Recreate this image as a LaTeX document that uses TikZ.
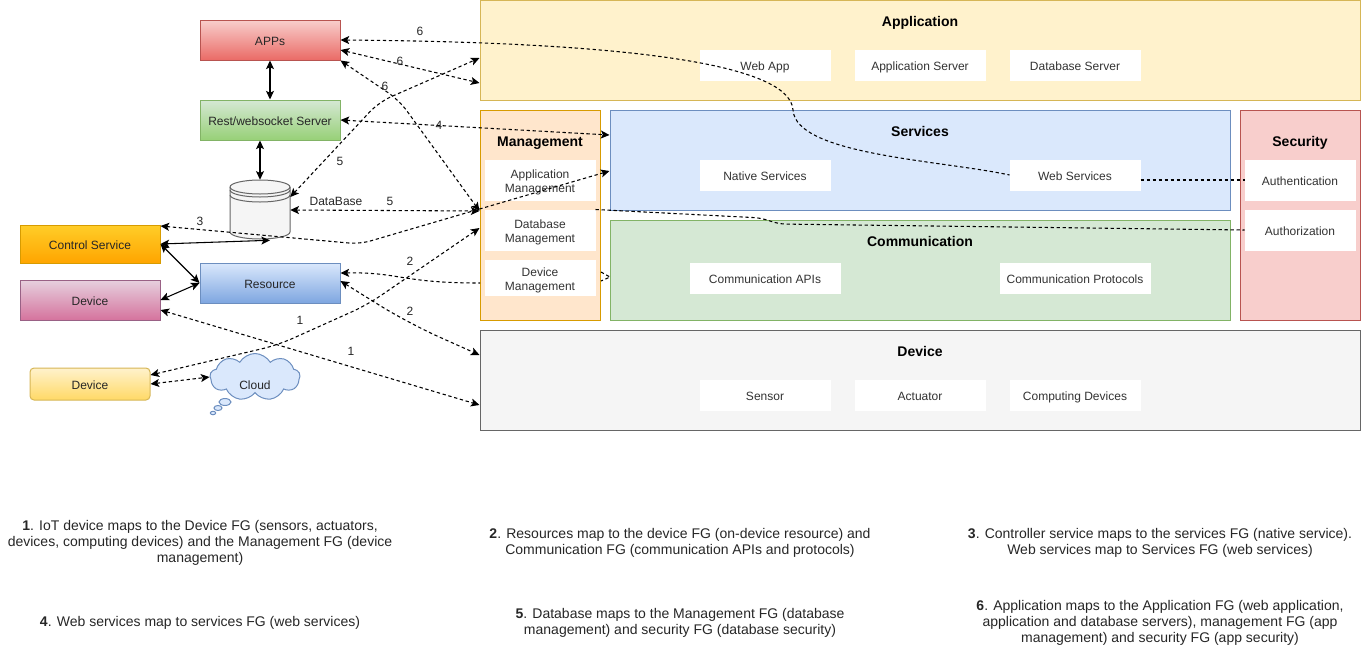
\documentclass[tikz,border=0pt]{standalone}
\usepackage{fontspec}
\setmainfont{Liberation Sans}
\usetikzlibrary{arrows.meta,calc,shapes.symbols}

\newcommand{\topgap}{\rule{0pt}{10.8pt}}
\tikzset{
    dim/.style 2 args={minimum width=#1*0.75pt, minimum height=#2*0.75pt, inner sep=0pt},
    fgbox/.style={draw=#1, line width=0.75pt},
    inbox/.style={fill=white, draw=white, text=black!80, font=\fontsize{9}{10.5}\selectfont, align=center, line width=0.75pt, text height=9.4pt, text depth=1.8pt},
    inboxtwo/.style={fill=white, draw=white, text=black!80, font=\fontsize{9}{10.5}\selectfont, align=center, line width=0.75pt},
    fgtitle/.style={font=\fontsize{10.5}{12}\selectfont\bfseries, inner sep=0pt, text height=8.5pt, text depth=1pt},
    grad/.style n args={3}{draw=#3, top color=#1, bottom color=#2, line width=0.75pt, text=black!85, font=\fontsize{9}{12}\selectfont, text height=9.4pt, text depth=1.8pt},
    num/.style={font=\fontsize{9}{12}\selectfont, inner sep=0pt, text=black!85},
    note/.style={font=\fontsize{10.5}{12}\selectfont, align=center, inner sep=0pt, text=black!85},
    dashline/.style={<->, dash pattern=on 2.5pt off 2pt, line width=0.8pt},
    dashback/.style={<-, dash pattern=on 2.5pt off 2pt, line width=0.8pt},
    dashplain/.style={dash pattern=on 2.5pt off 2pt, line width=0.8pt},
    solidline/.style={<->, line width=0.8pt},
    >={Stealth[length=6.5pt,width=6pt,inset=1.5pt]}
}
\definecolor{yellowf}{HTML}{FFF2CC}\definecolor{yellowd}{HTML}{D6B656}\definecolor{yellowb}{HTML}{FFD966}
\definecolor{orangef}{HTML}{FFE6CC}\definecolor{oranged}{HTML}{D79B00}
\definecolor{bluef}{HTML}{DAE8FC}\definecolor{blued}{HTML}{6C8EBF}\definecolor{blueb}{HTML}{7EA6E0}
\definecolor{greenf}{HTML}{D5E8D4}\definecolor{greend}{HTML}{82B366}\definecolor{greenb}{HTML}{97D077}
\definecolor{redf}{HTML}{F8CECC}\definecolor{redd}{HTML}{B85450}\definecolor{redb}{HTML}{EA6B66}
\definecolor{greyf}{HTML}{F5F5F5}\definecolor{greyd}{HTML}{666666}
\definecolor{ambert}{HTML}{FFCD28}\definecolor{amberb}{HTML}{FFA500}
\definecolor{pinkt}{HTML}{E6D0DE}\definecolor{pinkb}{HTML}{D5739D}\definecolor{pinkd}{HTML}{996185}

\begin{document}
\begin{tikzpicture}[x=0.75pt, y=-0.75pt]
    \useasboundingbox (0,0) rectangle (1361,661);

    % functional groups
    \node[fgbox=yellowd, fill=yellowf, dim={880}{100}] (application) at (920,50) {};
    \node[fgbox=oranged, fill=orangef, dim={120}{210}] (management) at (540,215) {};
    \node[fgbox=blued, fill=bluef, dim={620}{100}] (services) at (920,160) {};
    \node[fgbox=greend, fill=greenf, dim={620}{100}] (communication) at (920,270) {};
    \node[fgbox=redd, fill=redf, dim={120}{210}] (security) at (1300,215) {};
    \node[fgbox=greyd, fill=greyf, dim={880}{100}] (devicefg) at (920,380) {};

    \node[fgtitle] (applicationtitle) at (920,21) {Application};
    \node[fgtitle] (managementtitle) at (540,141) {Management};
    \node[fgtitle] (servicestitle) at (920,131) {Services};
    \node[fgtitle] (communicationtitle) at (920,241) {Communication};
    \node[fgtitle] (securitytitle) at (1300,141) {Security};
    \node[fgtitle] (devicetitle) at (920,351) {Device};

    % inner boxes
    \node[inbox, dim={130}{30}] (webapp) at (765,65) {Web App};
    \node[inbox, dim={130}{30}] (appserver) at (920,65) {Application Server};
    \node[inbox, dim={130}{30}] (dbserver) at (1075,65) {Database Server};
    \node[inboxtwo, dim={110}{40}] (appmgmt) at (540,180) {\topgap Application\\Management};
    \node[inboxtwo, dim={110}{40}] (dbmgmt) at (540,230) {\topgap Database\\Management};
    \node[inboxtwo, dim={110}{35}] (devmgmt) at (540,278) {\topgap Device\\Management};
    \node[inbox, dim={130}{30}] (native) at (765,175) {Native Services};
    \node[inbox, dim={130}{30}] (web) at (1075,175) {Web Services};
    \node[inbox, dim={150}{30}] (commapi) at (765,278) {Communication APIs};
    \node[inbox, dim={150}{30}] (commproto) at (1075,278) {Communication Protocols};
    \node[inbox, dim={110}{40}] (authn) at (1300,180) {Authentication};
    \node[inbox, dim={110}{40}] (authz) at (1300,230) {Authorization};
    \node[inbox, dim={130}{30}] (sensor) at (765,395) {Sensor};
    \node[inbox, dim={130}{30}] (actuator) at (920,395) {Actuator};
    \node[inbox, dim={130}{30}] (computing) at (1075,395) {Computing Devices};

    % left column
    \node[grad={redf}{redb}{redd}, dim={140}{40}] (apps) at (270,40) {APPs};
    \node[grad={greenf}{greenb}{greend}, dim={140}{40}] (rest) at (270,120) {Rest/websocket Server};
    \node[grad={ambert}{amberb}{oranged}, dim={140}{38}] (control) at (90,244) {Control Service};
    \node[grad={pinkt}{pinkb}{pinkd}, dim={140}{40}] (device) at (90,300) {Device};
    \node[grad={bluef}{blueb}{blued}, dim={140}{40}] (resource) at (270,283) {Resource};
    \node[grad={yellowf}{yellowb}{yellowd}, dim={120}{32}, rounded corners=3pt] (devicetwo) at (90,384) {Device};

    % database
    \node[dim={60}{60}] (db) at (260,210) {};
    \draw[fill=greyf, draw=greyd, line width=0.75pt] (230,187) -- (230,232) arc[start angle=180, end angle=360, x radius=22.5pt, y radius=5.25pt] -- (290,187) arc[start angle=0, end angle=180, x radius=22.5pt, y radius=5.25pt];
    \draw[draw=greyd, line width=0.75pt] (230,187) arc[start angle=180, end angle=360, x radius=22.5pt, y radius=5.25pt];
    \draw[draw=greyd, line width=0.75pt] (230,190) arc[start angle=180, end angle=360, x radius=22.5pt, y radius=5.25pt];
    \draw[draw=greyd, line width=0.75pt] (230,195) arc[start angle=180, end angle=360, x radius=22.5pt, y radius=5.25pt];

    % cloud
    \node[cloud, cloud puffs=9, cloud puff arc=120, aspect=2, fgbox=blued, fill=bluef, dim={90}{47}] (cloudshape) at (255,377) {};
    \node[num] (cloudtext) at (255,385) {Cloud};
    \draw[fgbox=blued, fill=bluef] (225,402) ellipse [x radius=4.5pt, y radius=2.6pt];
    \draw[fgbox=blued, fill=bluef] (218,408) ellipse [x radius=3pt, y radius=1.9pt];
    \draw[fgbox=blued, fill=bluef] (213,413) ellipse [x radius=2pt, y radius=1.3pt];

    % bends
    \coordinate (bendthree) at (360,244);
    \coordinate (bendfive) at (379,102);
    \coordinate (bendsix) at (399,100);
    \coordinate (bendone) at (367,305);
    \coordinate (bendtwo) at (408,323);
    \coordinate (bendaa) at (762,218);
    \coordinate (bendab) at (778,224);
    \coordinate (devmgmtin) at (480,283);
    \coordinate (devmgmtout) at (601,272);
    \coordinate (devmgmtback) at (601,281);
    \coordinate (commin) at (610,277);

    % solid links
    \draw[solidline] (apps.south) -- (rest.north);
    \draw[solidline] ([xshift=-7.5pt]rest.south) -- (db.north);
    \draw[solidline] (control.east) -- ([xshift=7.5pt]db.south);
    \draw[solidline] (control.east) -- (resource.west);
    \draw[solidline] (device.east) -- (resource.west);

    % dashed links
    \draw[dashback] (apps.east) .. controls (600,42) and (790,60) .. (793,110) .. controls (796,155) and (940,160) .. (web.west);
    \draw[dashline] ([yshift=-7.5pt]apps.east) -- ([yshift=-24.75pt]application.west);
    \draw[dashline, rounded corners=10pt] (apps.south east) -- (bendsix) -- ([yshift=3pt]management.west);
    \draw[dashline, rounded corners=10pt] ([yshift=9.75pt]db.east) -- (bendfive) -- ([yshift=-6pt]application.west);
    \draw[dashline] (db.east) -- ([yshift=3pt]management.west);
    \draw[dashline] (rest.east) -- ([yshift=18.75pt]services.west);
    \draw[dashline, rounded corners=8pt] ([yshift=13.5pt]control.east) -- (bendthree) -- ([yshift=-8.25pt]services.west);
    \draw[dashplain, rounded corners=6pt] (dbmgmt.north east) -- (bendaa) -- (bendab) -- (authz.west);
    \draw[dashplain] ([yshift=-3.75pt]web.east) -- (authn.west);
    \draw[dashback] ([yshift=7.5pt]resource.east) .. controls (400,272) and (400,283) .. (devmgmtin);
    \draw[dashplain] (devmgmtout) -- (commin) -- (devmgmtback);
    \draw[dashline, rounded corners=25pt] ([yshift=1.5pt]resource.east) -- (bendtwo) -- ([yshift=18.75pt]devicefg.west);
    \draw[dashline] ([yshift=-7.5pt]device.east) -- ([yshift=-18.75pt]devicefg.west);
    \draw[dashline, rounded corners=12pt] ([yshift=6.75pt]devicetwo.east) -- (278,345) -- (bendone) -- ([yshift=-9.75pt]management.west);
    \draw[dashline] (devicetwo.east) -- (cloudshape.west);

    % link numbers
    \node[num] (numsixa) at (420,31) {6};
    \node[num] (numsixb) at (400,61) {6};
    \node[num] (numsixc) at (385,86) {6};
    \node[num] (numfour) at (439,125) {4};
    \node[num] (numfivea) at (340,161) {5};
    \node[num] (numfiveb) at (390,201) {5};
    \node[num] (dblabel) at (336,201) {DataBase};
    \node[num] (numthree) at (200,221) {3};
    \node[num] (numtwoa) at (410,261) {2};
    \node[num] (numtwob) at (410,311) {2};
    \node[num] (numonea) at (300,320) {1};
    \node[num] (numoneb) at (351,351) {1};

    % notes
    \node[note] (noteone) at (200,543) {\textbf{1}. IoT device maps to the Device FG (sensors, actuators,\\devices, computing devices) and the Management FG (device\\management)};
    \node[note] (notetwo) at (680,543) {\textbf{2}. Resources map to the device FG (on-device resource) and\\Communication FG (communication APIs and protocols)};
    \node[note] (notethree) at (1160,543) {\textbf{3}. Controller service maps to the services FG (native service).\\Web services map to Services FG (web services)};
    \node[note] (notefour) at (200,623) {\textbf{4}. Web services map to services FG (web services)};
    \node[note] (notefive) at (680,623) {\textbf{5}. Database maps to the Management FG (database\\management) and security FG (database security)};
    \node[note] (notesix) at (1160,623) {\textbf{6}. Application maps to the Application FG (web application,\\application and database servers), management FG (app\\management) and security FG (app security)};
\end{tikzpicture}
\end{document}
